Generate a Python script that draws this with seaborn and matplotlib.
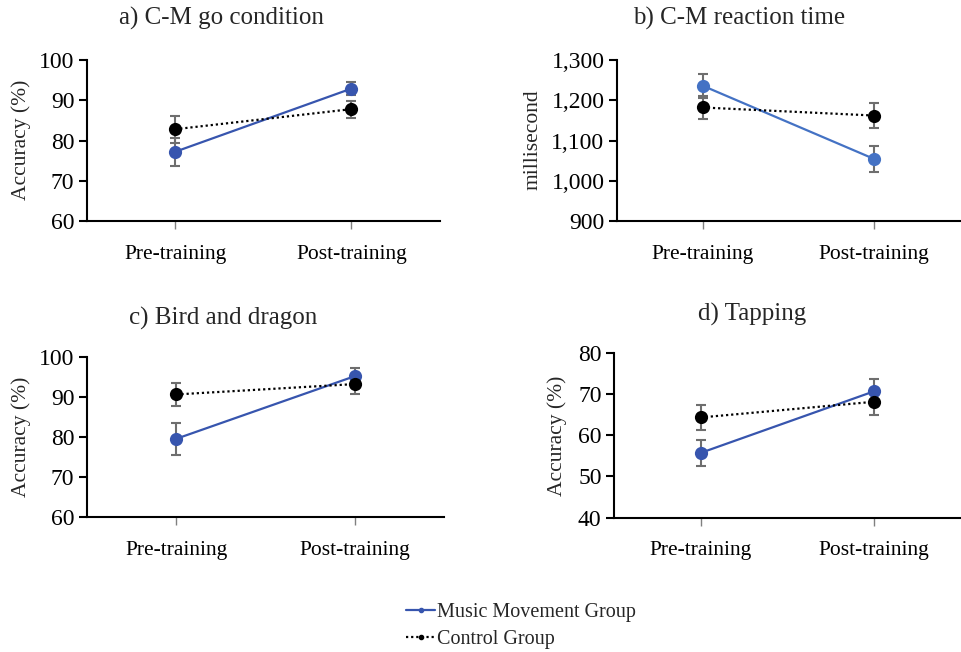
import matplotlib
matplotlib.use("Agg")
import matplotlib.pyplot as plt
from matplotlib.lines import Line2D
import seaborn as sns
import pandas as pd

# ---- data ----
phases = ["Pre-training", "Post-training"]
groups = ["Music Movement Group", "Control Group"]

titles = ["a) C-M go condition", "b) C-M reaction time", "c) Bird and dragon", "d) Tapping"]
ylabels = ["Accuracy (%)", "millisecond", "Accuracy (%)", "Accuracy (%)"]

music_means = [[77.2, 92.9], [1236, 1054], [79.6, 95.3], [55.7, 70.6]]
music_err = [[3.5, 1.6], [30, 33], [4.0, 2.0], [3.1, 3.1]]
control_means = [[82.8, 87.8], [1182, 1162], [90.7, 93.3], [64.3, 68.1]]
control_err = [[3.4, 2.1], [28, 32], [2.9, 2.4], [3.1, 3.1]]

ylims = [(60, 100), (900, 1300), (60, 100), (40, 80)]
yticks = [[60, 70, 80, 90, 100], [900, 1000, 1100, 1200, 1300],
          [60, 70, 80, 90, 100], [40, 50, 60, 70, 80]]
ytick_labels = [["60", "70", "80", "90", "100"],
                ["900", "1,000", "1,100", "1,200", "1,300"],
                ["60", "70", "80", "90", "100"],
                ["40", "50", "60", "70", "80"]]

music_colors = ["#3755AE", "#4472C4", "#3755AE", "#3755AE"]
control_color = "#000000"
err_color = "#6E6E6E"

# ---- style ----
sns.set_style("white")
plt.rcParams["font.family"] = ["Liberation Serif", "DejaVu Serif"]

fig = plt.figure(figsize=(9.61, 6.52), dpi=100)

positions = [
    [0.0905, 0.661, 0.367, 0.247],
    [0.642, 0.661, 0.357, 0.247],
    [0.0905, 0.207, 0.372, 0.245],
    [0.639, 0.206, 0.360, 0.253],
]
title_pos = [(221, 18), (739, 18), (223, 318), (752, 314)]
ylabel_pos = [(21, 140), (533, 140), (21, 437), (557, 436)]

for i in range(4):
    ax = fig.add_axes(positions[i])
    df = pd.DataFrame({
        "phase": phases * 2,
        "x": [0, 1, 0, 1],
        "value": music_means[i] + control_means[i],
        "err": music_err[i] + control_err[i],
        "group": [groups[0]] * 2 + [groups[1]] * 2,
    })
    for g in groups:
        sub = df[df["group"] == g]
        ax.errorbar(sub["x"], sub["value"], yerr=sub["err"], fmt="none",
                    ecolor=err_color, elinewidth=1.5, capsize=3.5,
                    capthick=1.5, zorder=2)
    sns.lineplot(data=df, x="x", y="value", hue="group", style="group",
                 palette={groups[0]: music_colors[i], groups[1]: control_color},
                 dashes={groups[0]: "", groups[1]: (1, 1.3)},
                 markers={groups[0]: "o", groups[1]: "o"},
                 markersize=9.5, markeredgewidth=0, linewidth=1.6,
                 ax=ax, legend=False, zorder=3)
    ax.set_xlim(-0.5, 1.5)
    ax.set_ylim(*ylims[i])
    ax.set_xticks([0, 1])
    ax.set_xticklabels(phases, fontsize=15.5)
    ax.set_yticks(yticks[i])
    ax.set_yticklabels(ytick_labels[i], fontsize=17)
    ax.set_xlabel("")
    ax.set_ylabel("")
    for s in ["top", "right"]:
        ax.spines[s].set_visible(False)
    for s in ["left", "bottom"]:
        ax.spines[s].set_color("black")
        ax.spines[s].set_linewidth(1.5)
    ax.tick_params(axis="y", direction="out", length=6, width=1.5, pad=3,
                   left=True, colors="black")
    ax.tick_params(axis="x", direction="out", length=6, width=1.0, pad=11,
                   bottom=True, colors="black", color="#808080")
    fig.text(title_pos[i][0] / 961, 1 - title_pos[i][1] / 652, titles[i],
             ha="center", va="center", fontsize=18)
    fig.text(ylabel_pos[i][0] / 961, 1 - ylabel_pos[i][1] / 652, ylabels[i],
             ha="center", va="center", rotation=90, fontsize=15.5)

handles = [
    Line2D([0], [0], color="#3755AE", linestyle="-", marker="o", markersize=3, linewidth=1.6),
    Line2D([0], [0], color="black", linestyle=(0, (1, 1.3)), marker="o", markersize=3, linewidth=1.6),
]
fig.legend(handles, groups, loc="center left", bbox_to_anchor=(398 / 961, 1 - 626 / 652),
           frameon=False, fontsize=14.5, handlelength=1.45, handletextpad=0.1,
           labelspacing=0.35, borderaxespad=0)

fig.savefig("out.png", dpi=100)
